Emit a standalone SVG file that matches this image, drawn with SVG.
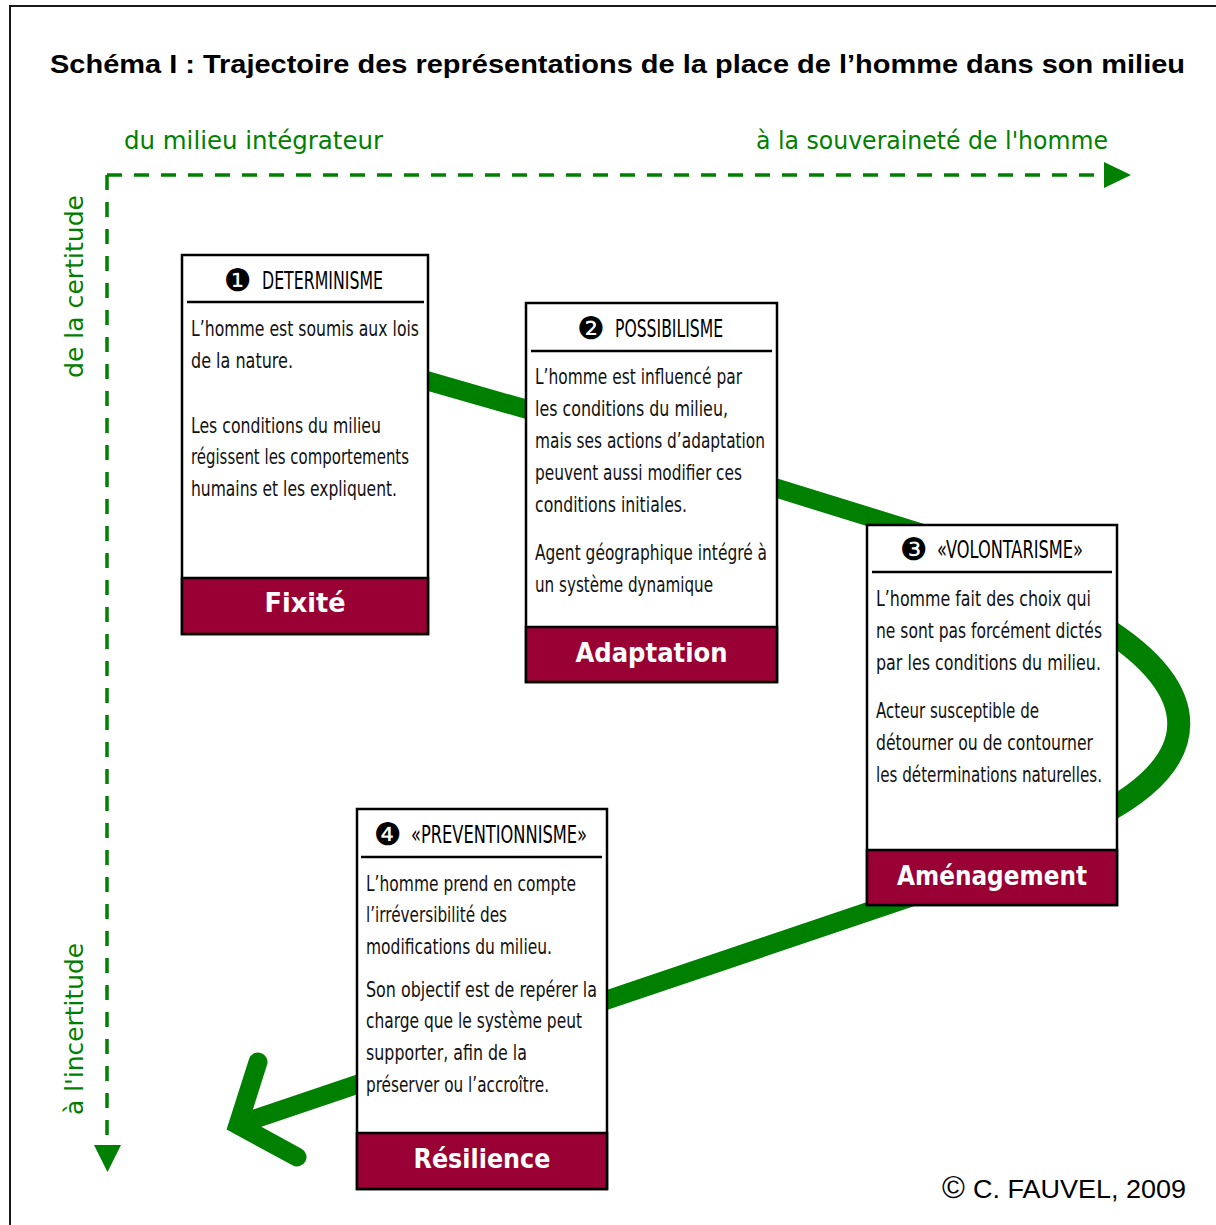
<svg xmlns="http://www.w3.org/2000/svg" width="1216" height="1225" viewBox="0 0 1216 1225">
<style>
.frame{fill:none;stroke:#1a1a1a;stroke-width:2}
.title{font-family:"Liberation Sans",Arial,sans-serif;font-weight:bold;font-size:26px;fill:#000}
.axis{fill:none;stroke:#008000;stroke-width:3.5;stroke-dasharray:15 12}
.axlab{font-family:"DejaVu Sans","Liberation Sans",sans-serif;font-size:25px;fill:#008000}
.box{fill:#fff;stroke:#000;stroke-width:2.5}
.sep{stroke:#000;stroke-width:2.5}
.foot{fill:#990033;stroke:#000;stroke-width:2.5}
.hd{font-family:"Liberation Sans Narrow","DejaVu Sans Condensed","Liberation Sans",sans-serif;font-size:25px;fill:#000}
.num{font-family:"DejaVu Sans",sans-serif;font-size:31px;fill:#000}
.bt{font-family:"Liberation Sans Narrow","DejaVu Sans Condensed","Liberation Sans",sans-serif;font-size:21px;fill:#111}
.lab{font-family:"DejaVu Sans","Liberation Sans",sans-serif;font-weight:bold;font-size:27px;fill:#fff;text-anchor:middle}
.path{fill:none;stroke:#008000;stroke-width:19}
.head{fill:none;stroke:#008000;stroke-width:19;stroke-linecap:round;stroke-linejoin:miter}
.copy{font-family:"Liberation Sans",Arial,sans-serif;font-size:25px;fill:#000}
</style>
<rect x="0" y="0" width="1216" height="1225" fill="#fff"/>
<rect class="frame" x="10" y="6" width="1230" height="1240"/>
<text class="title" x="50" y="73" textLength="1135" lengthAdjust="spacingAndGlyphs">Schéma I : Trajectoire des représentations de la place de l’homme dans son milieu</text>

<g id="axes">
<path class="axis" d="M107 175 H1106"/>
<path class="axis" d="M107 175 V1146"/>
<polygon points="1104,162 1131,175 1104,188" fill="#008000"/>
<polygon points="94,1145 107.5,1172 121,1145" fill="#008000"/>
<text class="axlab" x="124" y="149" textLength="259" lengthAdjust="spacingAndGlyphs">du milieu intégrateur</text>
<text class="axlab" x="756" y="149" textLength="352" lengthAdjust="spacingAndGlyphs">à la souveraineté de l'homme</text>
<text class="axlab" transform="translate(83,378) rotate(-90)" textLength="183" lengthAdjust="spacingAndGlyphs">de la certitude</text>
<text class="axlab" transform="translate(83,1115) rotate(-90)" textLength="172" lengthAdjust="spacingAndGlyphs">à l'incertitude</text>
</g>

<g id="connectors">
<path class="path" d="M400 373 L550 416"/>
<path class="path" d="M760 483 L960 545"/>
<path class="path" style="stroke-width:23" d="M1100 625 C1205 690 1205 760 1100 815"/>
<path class="path" d="M950 884 L240 1124"/>
<path class="head" d="M258 1062 L238 1125 L297 1157"/>
</g>

<g id="node1">
<rect class="box" x="182" y="255" width="246" height="379"/>
<line class="sep" x1="187" y1="302" x2="424" y2="302"/>
<text class="num" x="224" y="291">❶</text>
<text class="hd" x="262" y="289" textLength="121" lengthAdjust="spacingAndGlyphs">DETERMINISME</text>
<text class="bt" x="191" y="336" textLength="228" lengthAdjust="spacingAndGlyphs">L’homme est soumis aux lois</text>
<text class="bt" x="191" y="368" textLength="102" lengthAdjust="spacingAndGlyphs">de la nature.</text>
<text class="bt" x="191" y="433" textLength="190" lengthAdjust="spacingAndGlyphs">Les conditions du milieu</text>
<text class="bt" x="191" y="464" textLength="218" lengthAdjust="spacingAndGlyphs">régissent les comportements</text>
<text class="bt" x="191" y="496" textLength="206" lengthAdjust="spacingAndGlyphs">humains et les expliquent.</text>
<rect class="foot" x="182" y="578" width="246" height="56"/>
<text class="lab" x="305" y="612" textLength="81" lengthAdjust="spacingAndGlyphs">Fixité</text>
</g>

<g id="node2">
<rect class="box" x="526" y="303" width="251" height="379"/>
<line class="sep" x1="531" y1="351" x2="772" y2="351"/>
<text class="num" x="577" y="339">❷</text>
<text class="hd" x="615" y="337" textLength="108" lengthAdjust="spacingAndGlyphs">POSSIBILISME</text>
<text class="bt" x="535" y="384" textLength="207" lengthAdjust="spacingAndGlyphs">L’homme est influencé par</text>
<text class="bt" x="535" y="416" textLength="193" lengthAdjust="spacingAndGlyphs">les conditions du milieu,</text>
<text class="bt" x="535" y="448" textLength="230" lengthAdjust="spacingAndGlyphs">mais ses actions d’adaptation</text>
<text class="bt" x="535" y="480" textLength="207" lengthAdjust="spacingAndGlyphs">peuvent aussi modifier ces</text>
<text class="bt" x="535" y="512" textLength="152" lengthAdjust="spacingAndGlyphs">conditions initiales.</text>
<text class="bt" x="535" y="560" textLength="232" lengthAdjust="spacingAndGlyphs">Agent géographique intégré à</text>
<text class="bt" x="535" y="592" textLength="178" lengthAdjust="spacingAndGlyphs">un système dynamique</text>
<rect class="foot" x="526" y="627" width="251" height="55"/>
<text class="lab" x="651.5" y="662" textLength="152" lengthAdjust="spacingAndGlyphs">Adaptation</text>
</g>

<g id="node3">
<rect class="box" x="867" y="525" width="250" height="380"/>
<line class="sep" x1="872" y1="572" x2="1112" y2="572"/>
<text class="num" x="900" y="560">❸</text>
<text class="hd" x="937" y="558" textLength="146" lengthAdjust="spacingAndGlyphs">«VOLONTARISME»</text>
<text class="bt" x="876" y="606" textLength="215" lengthAdjust="spacingAndGlyphs">L’homme fait des choix qui</text>
<text class="bt" x="876" y="638" textLength="226" lengthAdjust="spacingAndGlyphs">ne sont pas forcément dictés</text>
<text class="bt" x="876" y="670" textLength="225" lengthAdjust="spacingAndGlyphs">par les conditions du milieu.</text>
<text class="bt" x="876" y="718" textLength="163" lengthAdjust="spacingAndGlyphs">Acteur susceptible de</text>
<text class="bt" x="876" y="750" textLength="217" lengthAdjust="spacingAndGlyphs">détourner ou de contourner</text>
<text class="bt" x="876" y="782" textLength="226" lengthAdjust="spacingAndGlyphs">les déterminations naturelles.</text>
<rect class="foot" x="867" y="850" width="250" height="55"/>
<text class="lab" x="992" y="885" textLength="190" lengthAdjust="spacingAndGlyphs">Aménagement</text>
</g>

<g id="node4">
<rect class="box" x="357" y="809" width="250" height="380"/>
<line class="sep" x1="361" y1="857" x2="602" y2="857"/>
<text class="num" x="374" y="845">❹</text>
<text class="hd" x="411" y="843" textLength="176" lengthAdjust="spacingAndGlyphs">«PREVENTIONNISME»</text>
<text class="bt" x="366" y="891" textLength="210" lengthAdjust="spacingAndGlyphs">L’homme prend en compte</text>
<text class="bt" x="366" y="922" textLength="141" lengthAdjust="spacingAndGlyphs">l’irréversibilité des</text>
<text class="bt" x="366" y="954" textLength="186" lengthAdjust="spacingAndGlyphs">modifications du milieu.</text>
<text class="bt" x="366" y="997" textLength="231" lengthAdjust="spacingAndGlyphs">Son objectif est de repérer la</text>
<text class="bt" x="366" y="1028" textLength="216" lengthAdjust="spacingAndGlyphs">charge que le système peut</text>
<text class="bt" x="366" y="1060" textLength="161" lengthAdjust="spacingAndGlyphs">supporter, afin de la</text>
<text class="bt" x="366" y="1092" textLength="183" lengthAdjust="spacingAndGlyphs">préserver ou l’accroître.</text>
<rect class="foot" x="357" y="1133" width="250" height="56"/>
<text class="lab" x="482" y="1168" textLength="137" lengthAdjust="spacingAndGlyphs">Résilience</text>
</g>

<text class="copy" x="943" y="1198"><tspan font-size="31" x="942" y="1198">©</tspan><tspan x="973" y="1198" textLength="213" lengthAdjust="spacingAndGlyphs">C. FAUVEL, 2009</tspan></text>
</svg>
